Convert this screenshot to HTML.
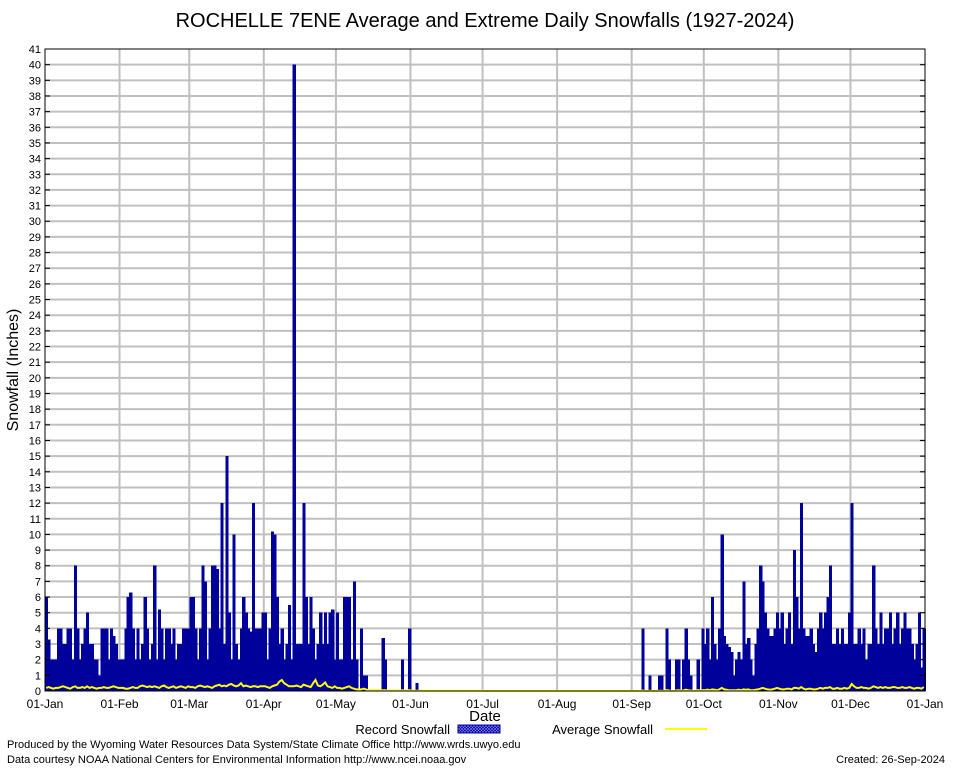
<!DOCTYPE html>
<html><head><meta charset="utf-8"><style>
body{margin:0;background:#fff;font-family:"Liberation Sans",sans-serif}
svg text{font-family:"Liberation Sans",sans-serif}
</style></head><body>
<svg id="c" width="954" height="768" xmlns="http://www.w3.org/2000/svg">
<defs><pattern id="hatch" width="3" height="3" patternUnits="userSpaceOnUse"><rect width="3" height="3" fill="#00009b"/><path d="M0,0L3,3M3,0L0,3" stroke="#8888ff" stroke-width="0.6"/></pattern></defs>
<rect x="0" y="0" width="954" height="768" fill="#fff"/>
<g id="grid"></g>
<g id="bars" shape-rendering="crispEdges"></g>
<path id="avg" fill="none" stroke="#ffff00" stroke-width="2"/>
<rect x="45" y="49" width="880" height="642" fill="none" stroke="#000" stroke-width="1"/>
<g id="axes"></g>
<text x="485" y="27" font-size="20" text-anchor="middle">ROCHELLE 7ENE Average and Extreme Daily Snowfalls (1927-2024)</text>
<text transform="translate(18,370) rotate(-90)" font-size="16" text-anchor="middle">Snowfall (Inches)</text>
<text x="485" y="721" font-size="15" text-anchor="middle">Date</text>
<g><text x="450" y="734" font-size="13" text-anchor="end">Record Snowfall</text><rect x="458" y="725" width="42" height="8" fill="url(#hatch)" stroke="#00009b"/></g>
<g><text x="653" y="734" font-size="13" text-anchor="end">Average Snowfall</text><line x1="665" y1="729" x2="707" y2="729" stroke="#ffff00" stroke-width="2"/></g>
<text x="7" y="748" font-size="11">Produced by the Wyoming Water Resources Data System/State Climate Office http://www.wrds.uwyo.edu</text>
<text x="7" y="763" font-size="11">Data courtesy NOAA National Centers for Environmental Information http://www.ncei.noaa.gov</text>
<text x="945" y="763" font-size="11" text-anchor="end">Created:  26-Sep-2024</text>
</svg>
<script>
const monthLabels=["01-Jan","01-Feb","01-Mar","01-Apr","01-May","01-Jun","01-Jul","01-Aug","01-Sep","01-Oct","01-Nov","01-Dec","01-Jan"];
const monthStarts=[0,31,60,91,121,152,182,213,244,274,305,335,366];
const recJan=[6,3.3,2,2,2,4,4,3,3,4,4,2,8,4,2,3,4,5,3,3,2,2,1,4,4,4,2,4,3.5,3,2];
const recFeb=[2,2,4,6,6.3,4,2,4,2,3,6,4,2,3,8,2,5.2,4,2,4,4,3,4,2,3,3,4,4,4];
const recMar=[6,6,4,2,4,8,7,2,4,8,8,7.8,4,12,3,15,5,2,10,3,2,4,6,5,4,3.8,12,4,4,4,5];
const recApr=[5,2,4,10.2,10,6,3,4,2,3,5.5,2,40,3,3,3,12,6,3,6,4,2,3,5,3,5,3,5,5.2,2];
const recMay=[5,2,2,6,6,6,2,7,2,0,4,1,1,0,0,0,0,0,0,3.4,2,0,0,0,0,0,0,2,0,0,4];
const recJun=[0,0,0.5,0,0,0,0,0,0,0,0,0,0,0,0,0,0,0,0,0,0,0,0,0,0,0,0,0,0,0];
const recJul=new Array(31).fill(0);
const recAug=new Array(31).fill(0);
const recSep=[0,0,0,0,4,0,0,1,0,0,0,1,1,0,4,2,0,0,2,2,0,2,4,2,1,0,0,2,0,4];
const recOct=[3,4,2,6,3,2,4,10,3.5,3,2.8,2.5,1,2,2.5,2,7,3,3.4,2,1,3,4,8,7,5,4,3.5,3.5,4,5];
const recNov=[4,5,3,4,5,3,9,6,4,12,4,3.5,3.5,4,3,2.5,4,5,4,5,6,8,3,3,4,3,4,3,3,5];
const recDec=[12,3,3,4,3,4,2,3,3,8,4,3,5,3,4,4,5,3,4,5,3,4,5,4,4,3,2,3,5,1.5,4];
const record=[].concat(recJan,recFeb,recMar,recApr,recMay,recJun,recJul,recAug,recSep,recOct,recNov,recDec);
const avgJan=[.2,.25,.2,.15,.2,.2,.25,.3,.25,.2,.15,.25,.3,.2,.2,.25,.2,.3,.2,.25,.2,.15,.2,.2,.25,.2,.2,.25,.3,.25,.2];
const avgFeb=[.2,.2,.15,.15,.2,.25,.2,.2,.3,.35,.3,.25,.3,.25,.3,.25,.2,.3,.35,.25,.2,.25,.3,.2,.25,.3,.25,.2,.3];
const avgMar=[.25,.25,.2,.3,.35,.3,.25,.3,.25,.2,.3,.35,.4,.3,.35,.3,.4,.45,.35,.3,.35,.5,.3,.35,.3,.25,.3,.3,.25,.3,.3];
const avgApr=[.3,.25,.2,.3,.35,.4,.6,.7,.5,.4,.3,.3,.3,.35,.3,.25,.4,.35,.3,.25,.5,.7,.35,.3,.4,.55,.3,.25,.2,.3];
const avgMay=[.2,.2,.15,.2,.25,.3,.2,.15,.1,.1,.1,.15,.1,.05,.05,.05,.05,.05,.05,.05,.05,.03,.03,.03,.03,.03,.03,.05,.03,.03,.05];
const avgJun=new Array(30).fill(0.01);
const avgJul=new Array(31).fill(0);
const avgAug=new Array(31).fill(0);
const avgSep=[0,0,0,0,.03,0,0,.02,0,0,0,.02,.02,0,.05,.03,0,0,.03,.05,0,.03,.08,.05,.03,.02,.02,.05,.03,.06];
const avgOct=[.05,.08,.05,.1,.08,.05,.1,.2,.1,.08,.05,.05,.05,.05,.08,.05,.1,.08,.1,.05,.05,.08,.1,.15,.2,.15,.1,.08,.1,.15,.2];
const avgNov=[.15,.1,.1,.15,.15,.1,.2,.2,.15,.25,.15,.1,.15,.15,.1,.1,.15,.2,.15,.2,.2,.25,.15,.15,.2,.15,.15,.2,.15,.2];
const avgDec=[.45,.3,.2,.2,.25,.2,.2,.15,.2,.3,.25,.2,.25,.2,.25,.2,.2,.25,.25,.2,.2,.25,.2,.2,.25,.2,.15,.2,.2,.15,.25];
const avg=[].concat(avgJan,avgFeb,avgMar,avgApr,avgMay,avgJun,avgJul,avgAug,avgSep,avgOct,avgNov,avgDec);
const yTicks=[...Array(42).keys()];

const NS="http://www.w3.org/2000/svg";
const X0=45,X1=925,Y0=691,Y1=49,YMAX=41,NDAYS=366;
const xs=d=>X0+d*(X1-X0)/NDAYS;
const ys=v=>Y0-v*(Y0-Y1)/YMAX;
function mk(t,a){const e=document.createElementNS(NS,t);for(const k in a)e.setAttribute(k,a[k]);return e;}
const grid=document.getElementById('grid'),axes=document.getElementById('axes'),bars=document.getElementById('bars');
yTicks.forEach(v=>{
  const y=ys(v);
  if(v>0&&v<YMAX){const l=mk('line',{x1:X0,x2:X1,y1:y,y2:y,stroke:'#c0c0c0','stroke-width':2});
  
  
  grid.appendChild(l);}
  const t=mk('line',{x1:X0,x2:X0+5,y1:y,y2:y,stroke:'#000'});axes.appendChild(t);
  const t2=mk('line',{x1:X1-5,x2:X1,y1:y,y2:y,stroke:'#000'});axes.appendChild(t2);
  const tx=mk('text',{x:X0-4,y:y+4,'font-size':11,'text-anchor':'end'});tx.textContent=v;
  
  
  axes.appendChild(tx);
});
monthStarts.forEach((d,i)=>{
  const x=xs(d);
  if(i>0&&i<12){const l=mk('line',{x1:x,x2:x,y1:Y1,y2:Y0,stroke:'#c0c0c0','stroke-width':2});
  
  
  grid.appendChild(l);}
  const tx=mk('text',{x:x,y:708,'font-size':12,'text-anchor':'middle'});tx.textContent=monthLabels[i];
  
  
  axes.appendChild(tx);
});
const w=(X1-X0)/NDAYS;
record.forEach((v,d)=>{
  if(v<=0)return;
  const r=mk('rect',{x:xs(d),y:ys(v),width:w+0.8,height:Y0-ys(v),fill:'#00009b'});
  
  
  bars.appendChild(r);
});
document.getElementById('avg').setAttribute('d',avg.map((v,d)=>(d?'L':'M')+(xs(d)+w/2).toFixed(1)+','+ys(v).toFixed(1)).join(''));
</script>
</body></html>
